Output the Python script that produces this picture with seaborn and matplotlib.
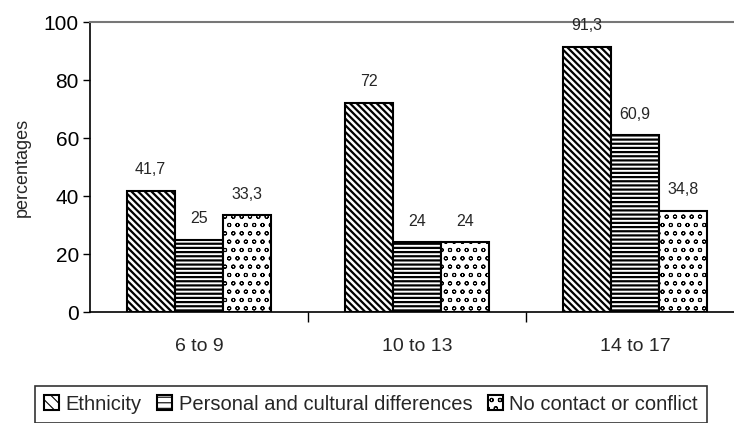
import matplotlib
matplotlib.use("Agg")
import matplotlib.pyplot as plt
import seaborn as sns
import pandas as pd

categories = ["6 to 9", "10 to 13", "14 to 17"]
series = ["Ethnicity", "Personal and cultural differences", "No contact or conflict"]
ethnicity = [41.7, 72, 91.3]
personal = [25, 24, 60.9]
no_contact = [33.3, 24, 34.8]
labels = [["41,7", "72", "91,3"], ["25", "24", "60,9"], ["33,3", "24", "34,8"]]

sns.set_theme(style="white")
plt.rcParams["font.family"] = ["Liberation Sans", "DejaVu Sans"]
plt.rcParams["hatch.linewidth"] = 1.6

rows = []
for s, vals in zip(series, [ethnicity, personal, no_contact]):
    for c, v in zip(categories, vals):
        rows.append({"age": c, "series": s, "value": v})
df = pd.DataFrame(rows)

fig = plt.figure(figsize=(7.34, 4.23), dpi=100)
ax = fig.add_axes([90/734, 111/423, 654/734, 290/423])
sns.barplot(data=df, x="age", y="value", hue="series", order=categories,
            hue_order=series, palette=["white"]*3, edgecolor="black",
            linewidth=1.5, width=0.665, ax=ax, legend=True)

hatches = ["\\\\\\\\\\", "----", "oo"]
hlw = [1.6, 1.6, 0.7]
for i, cont in enumerate(ax.containers):
    for j, bar in enumerate(cont):
        bar.set_hatch(hatches[i])
        bar.set_facecolor("white")
        bar.set_edgecolor("black")
        if hasattr(bar, "set_hatch_linewidth"):
            bar.set_hatch_linewidth(hlw[i])
    ax.bar_label(cont, labels=labels[i], padding=10, fontsize=11.5)

ax.set_ylim(0, 100)
ax.set_xlim(-0.5, 2.5)
ax.set_yticks([0, 20, 40, 60, 80, 100])
ax.set_xticks([0, 1, 2])
ax.set_xticklabels(categories)
ax.tick_params(axis="y", labelsize=15, length=5, width=1, direction="out", left=True, colors="black", pad=3)
ax.tick_params(axis="x", labelsize=14, length=0, pad=19)
ax.set_xticks([0.5, 1.5], minor=True)
ax.tick_params(axis="x", which="minor", length=7, width=1, bottom=True, direction="out", color="black")
ax.set_xlabel("")
ax.set_ylabel("percentages", fontsize=13)
ax.yaxis.set_label_coords(-0.09, 0.5)

for sp in ["left", "bottom"]:
    ax.spines[sp].set_color("black")
    ax.spines[sp].set_linewidth(1.2)
ax.spines["right"].set_visible(False)
ax.spines["top"].set_color("#777777")
ax.spines["top"].set_linewidth(1.5)

leg = ax.legend(loc="lower center", bbox_to_anchor=(371/734, -10/423), bbox_transform=fig.transFigure,
                ncol=3, frameon=True, fancybox=False, edgecolor="black", fontsize=14.5,
                handlelength=0.75, handleheight=0.75, handletextpad=0.3, columnspacing=0.8,
                borderpad=0.45)
leg.get_frame().set_linewidth(1.2)
for h, hat in zip(leg.legend_handles, hatches):
    h.set_hatch(hat[:3])
    h.set_edgecolor("black")
    h.set_facecolor("white")
    if hasattr(h, "set_hatch_linewidth"):
        h.set_hatch_linewidth(0.8)

fig.savefig("out.png", dpi=100)
